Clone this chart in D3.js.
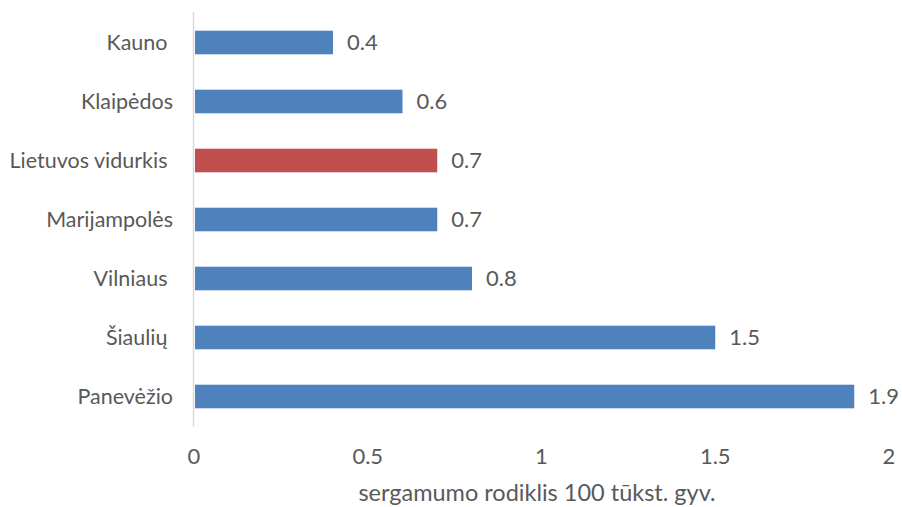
<!DOCTYPE html>
<html><head><meta charset="utf-8">
<script src="https://cdn.jsdelivr.net/npm/d3@7"></script>
<style>body{margin:0;background:#fff}svg{display:block}text{font-family:Lato,sans-serif;fill:#595959;white-space:pre}</style>
</head><body>
<svg id="c" width="902" height="507"></svg>
<script>
const categories = ["Kauno ", "Klaipėdos", "Lietuvos vidurkis ", "Marijampolės", "Vilniaus ", "Šiaulių ", "Panevėžio"];
const values = [0.4, 0.6, 0.7, 0.7, 0.8, 1.5, 1.9];
const highlight = ["Lietuvos vidurkis "];
const xTicks = [0, 0.5, 1, 1.5, 2];
const xTitle = "sergamumo rodiklis 100 tūkst. gyv.";

const svg = d3.select("#c");
const x = d3.scaleLinear().domain([0, 2]).range([194, 889]);
const y = d3.scaleBand().domain(categories).range([13, 426]).paddingInner(0.6).paddingOuter(0.3);
const fs = 22;

svg.append("line").attr("x1", 193.5).attr("x2", 193.5).attr("y1", 12).attr("y2", 427)
  .attr("stroke", "#d9d9d9").attr("stroke-width", 1.5);

svg.selectAll("rect.bar").data(categories).join("rect").attr("class", "bar")
  .attr("x", x(0) + 1).attr("y", d => y(d))
  .attr("width", (d, i) => x(values[i]) - x(0) - 1).attr("height", y.bandwidth())
  .attr("fill", d => highlight.includes(d) ? "#c0504d" : "#4f81bd");

svg.selectAll("text.val").data(categories).join("text").attr("class", "val")
  .attr("x", (d, i) => x(values[i]) + 14).attr("y", d => y(d) + y.bandwidth() / 2)
  .attr("dy", "0.35em").attr("font-size", fs).text((d, i) => values[i]);

svg.selectAll("text.cat").data(categories).join("text").attr("class", "cat")
  .attr("x", 173).attr("y", d => y(d) + y.bandwidth() / 2)
  .attr("dy", "0.35em").attr("text-anchor", "end").attr("font-size", 21.5).text(d => d);

svg.selectAll("text.tick").data(xTicks).join("text").attr("class", "tick")
  .attr("x", d => x(d)).attr("y", 456).attr("dy", "0.35em")
  .attr("text-anchor", "middle").attr("font-size", fs).text(d => d);

svg.append("text").attr("x", 537).attr("y", 493).attr("dy", "0.35em")
  .attr("text-anchor", "middle").attr("font-size", 23.5).text(xTitle);
</script>
</body></html>
